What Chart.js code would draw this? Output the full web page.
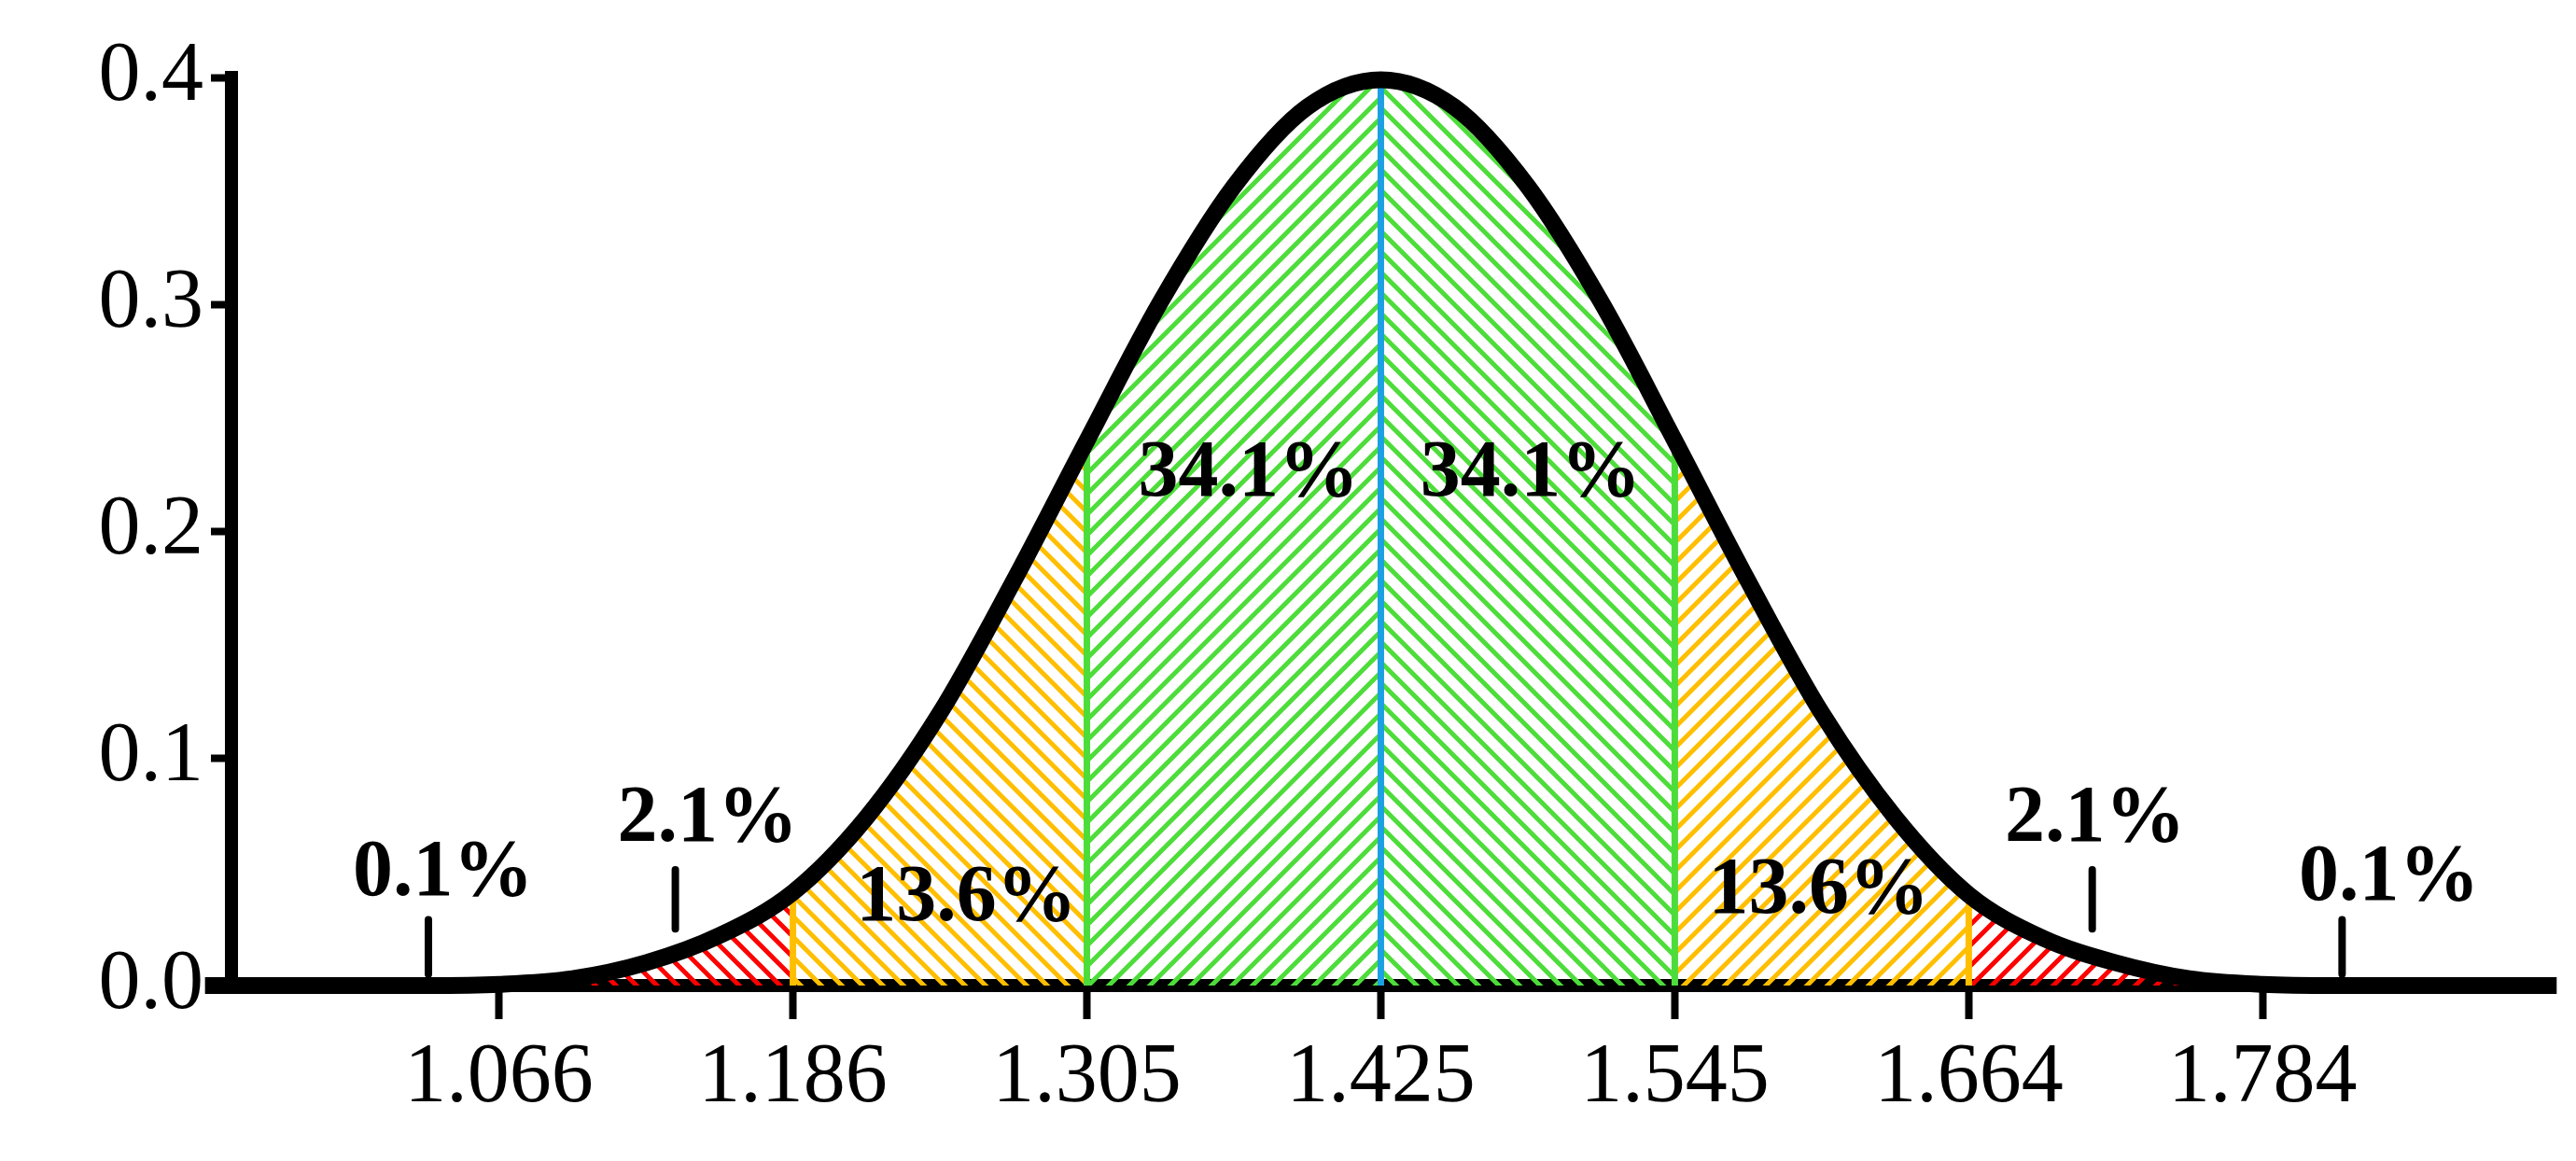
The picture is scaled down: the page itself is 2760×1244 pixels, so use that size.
<!DOCTYPE html>
<html><head><meta charset="utf-8">
<script src="https://cdn.jsdelivr.net/npm/chart.js@4/dist/chart.umd.min.js"></script>
<style>html,body{margin:0;background:#fff}#w{width:2760px;height:1244px}</style>
</head><body><div id="w"><canvas id="c"></canvas></div>
<script>
// z positions and density values
const zs   = [-4,-3.75,-3.5,-3.25,-3,-2.75,-2.5,-2.25,-2,-1.75,-1.5,-1.25,-1,-0.75,-0.5,-0.25,0,0.25,0.5,0.75,1,1.25,1.5,1.75,2,2.25,2.5,2.75,3,3.25,3.5,3.75,4];
const dens = [0,0,0,0,0.0005,0.003,0.010,0.022,0.041,0.074,0.120,0.178,0.240,0.301,0.352,0.387,0.399,0.387,0.352,0.301,0.240,0.178,0.120,0.074,0.040,0.021,0.010,0.003,0.0005,0,0,0,0];
const tickZ = [-3,-2,-1,0,1,2,3];
const tickLabels = ['1.066','1.186','1.305','1.425','1.545','1.664','1.784'];
const yTicks = [0,0.1,0.2,0.3,0.4];
const pctLabels = ['0.1%','2.1%','13.6%','34.1%','34.1%','13.6%','2.1%','0.1%'];
const pctZ = [-3.19,-2.29,-1.41,-0.45,0.51,1.49,2.43,3.43];
const pctY = [0.049,0.073,0.038,0.225,0.225,0.041,0.073,0.047];
const markZ = [-3.24,-2.40,2.42,3.27];
const markY0 = [0.005,0.025,0.025,0.005];
const markY1 = [0.029,0.051,0.051,0.029];

function pat(color, dir){
  const s=22, c=document.createElement('canvas'); c.width=s; c.height=s;
  const g=c.getContext('2d'); g.strokeStyle=color; g.lineWidth=5;
  g.beginPath();
  if(dir>0){ g.moveTo(-s,s*2); g.lineTo(s*2,-s); g.moveTo(-s,s); g.lineTo(s,-s); g.moveTo(0,s*2); g.lineTo(s*2,0); }
  else { g.moveTo(-s,-s); g.lineTo(s*2,s*2); g.moveTo(-s,0); g.lineTo(s,s*2); g.moveTo(0,-s); g.lineTo(s*2,s); }
  g.stroke();
  return document.createElement('canvas').getContext('2d').createPattern(c,'repeat');
}
const GREEN='#4ddd3a', ORANGE='#ffbf00', RED='#ff0000', BLUE='#1ba1e2';
function seg(a,b){ const out=[]; zs.forEach((z,i)=>{ if(z>=a&&z<=b) out.push({x:z,y:dens[i]}); }); return out; }
function vline(z,color){ const i=zs.indexOf(z); return {data:[{x:z,y:0},{x:z,y:dens[i]}],borderColor:color,borderWidth:7,pointRadius:0,showLine:true,fill:false,order:1}; }
const regions=[[-3,-2,RED,-1],[-2,-1,ORANGE,-1],[-1,0,GREEN,1],[0,1,GREEN,-1],[1,2,ORANGE,1],[2,3,RED,1]];
const ds=[];
regions.forEach(r=>ds.push({data:seg(r[0],r[1]),showLine:true,borderWidth:0,pointRadius:0,fill:'origin',backgroundColor:pat(r[2],r[3]),cubicInterpolationMode:'monotone',order:3}));
[-2,2].forEach(z=>ds.push(vline(z,ORANGE)));
[-1,1].forEach(z=>ds.push(vline(z,GREEN)));
ds.push(vline(0,BLUE));
markZ.forEach((z,i)=>ds.push({data:[{x:z,y:markY0[i]},{x:z,y:markY1[i]}],borderColor:'#000',borderWidth:8,borderCapStyle:'round',pointRadius:0,showLine:true,fill:false,order:0}));
ds.push({data:zs.map((z,i)=>({x:z,y:dens[i]})),showLine:true,borderColor:'#000',borderWidth:18,pointRadius:0,fill:false,cubicInterpolationMode:'monotone',order:0,clip:false});

const labelPlugin={id:'lbl',afterDatasetsDraw(ch){
  const g=ch.ctx, xs=ch.scales.x, ys=ch.scales.y;
  g.save(); g.fillStyle='#000'; g.font='bold 86px "Liberation Serif"'; g.textAlign='center'; g.textBaseline='middle';
  pctLabels.forEach((t,i)=>g.fillText(t,xs.getPixelForValue(pctZ[i]),ys.getPixelForValue(pctY[i])));
  g.restore();
}};
new Chart(document.getElementById('c'),{type:'scatter',data:{datasets:ds},plugins:[labelPlugin],
options:{responsive:true,maintainAspectRatio:false,animation:false,
 layout:{padding:{top:83,right:27,left:0,bottom:0}},
 plugins:{legend:{display:false},tooltip:{enabled:false}},
 scales:{
  x:{type:'linear',min:-3.91,max:3.98,
   afterBuildTicks:s=>{s.ticks=tickZ.map(v=>({value:v}));},
   afterFit:s=>{s.height=188;},
   ticks:{callback:(v)=>tickLabels[tickZ.indexOf(v)],font:{family:'Liberation Serif',size:90},color:'#000',padding:10,maxRotation:0,autoSkip:false},
   grid:{display:true,drawOnChartArea:false,drawTicks:true,tickLength:36,tickWidth:8,color:'#000'},
   border:{display:true,width:14,color:'#000'}},
  y:{min:0,max:0.4,
   afterBuildTicks:s=>{s.ticks=yTicks.map(v=>({value:v}));},
   afterFit:s=>{s.width=248;},
   ticks:{callback:v=>v.toFixed(1),font:{family:'Liberation Serif',size:90},color:'#000',padding:8},
   grid:{display:true,drawOnChartArea:false,drawTicks:true,tickLength:22,tickWidth:8,color:'#000'},
   border:{display:true,width:14,color:'#000'}}
 }}});
</script></body></html>
